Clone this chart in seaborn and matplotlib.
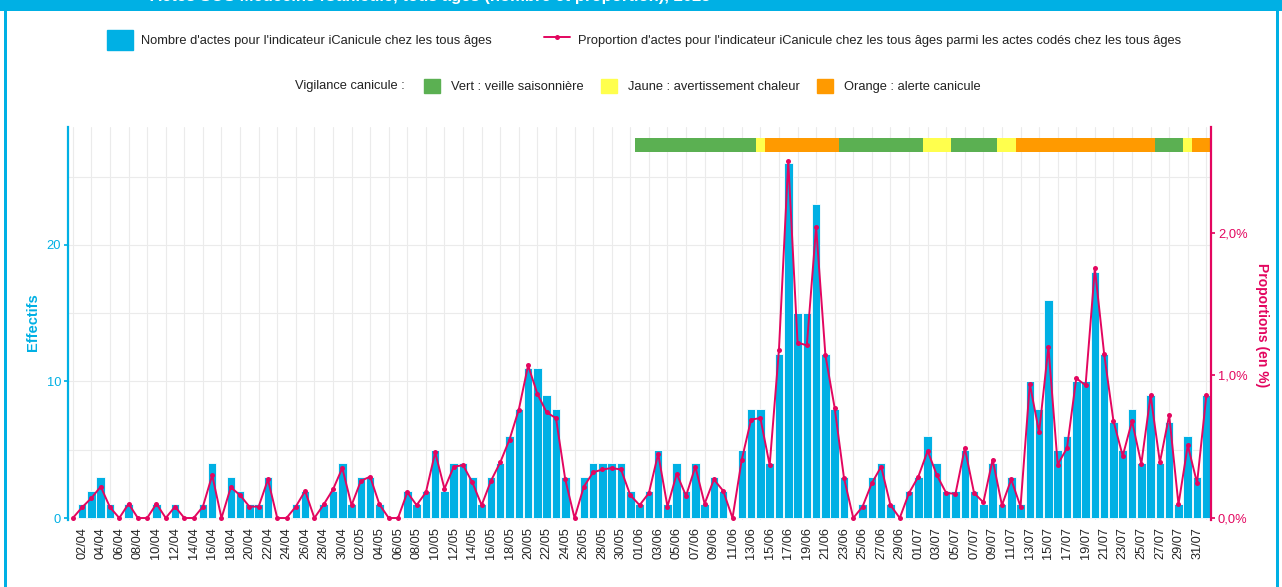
import numpy as np
import pandas as pd
import matplotlib
matplotlib.use("Agg")
import matplotlib.pyplot as plt
import matplotlib.patches as mpatches
import matplotlib.transforms as mtransforms
from matplotlib.lines import Line2D
import seaborn as sns

# ---------------- data ----------------
debut = "2025-04-01"
fin = "2025-08-01"

effectifs_avril = [0, 1, 2, 3, 1, 0, 1, 0, 0, 1, 0, 1, 0, 0, 1, 4, 0, 3, 2, 1,
                   1, 3, 0, 0, 1, 2, 0, 1, 2, 4]
effectifs_mai = [1, 3, 3, 1, 0, 0, 2, 1, 2, 5, 2, 4, 4, 3, 1, 3, 4, 6, 8, 11,
                 11, 9, 8, 3, 0, 3, 4, 4, 4, 4, 2]
effectifs_juin = [1, 2, 5, 1, 4, 2, 4, 1, 3, 2, 0, 5, 8, 8, 4, 12, 26, 15, 15, 23,
                  12, 8, 3, 0, 1, 3, 4, 1, 0, 2]
effectifs_juillet = [3, 6, 4, 2, 2, 5, 2, 1, 4, 1, 3, 1, 10, 8, 16, 5, 6, 10, 10, 18,
                     12, 7, 5, 8, 4, 9, 4, 7, 1, 6, 3]
effectifs_aout = [9]

prop_avril = [0, 0.075, 0.14, 0.22, 0.075, 0, 0.10, 0, 0, 0.10, 0, 0.08, 0, 0, 0.08,
              0.30, 0, 0.215, 0.16, 0.08, 0.08, 0.27, 0, 0, 0.08, 0.19, 0, 0.095, 0.20, 0.35]
prop_mai = [0.09, 0.26, 0.29, 0.095, 0, 0, 0.18, 0.09, 0.18, 0.46, 0.205, 0.36, 0.37,
            0.25, 0.09, 0.26, 0.39, 0.55, 0.76, 1.07, 0.87, 0.74, 0.70, 0.27, 0, 0.22,
            0.32, 0.34, 0.35, 0.34, 0.16]
prop_juin = [0.09, 0.175, 0.45, 0.08, 0.31, 0.155, 0.36, 0.10, 0.27, 0.19, 0, 0.41,
             0.69, 0.70, 0.37, 1.18, 2.50, 1.23, 1.21, 2.04, 1.14, 0.77, 0.28, 0, 0.08,
             0.245, 0.36, 0.09, 0, 0.175]
prop_juillet = [0.29, 0.47, 0.30, 0.175, 0.17, 0.49, 0.175, 0.11, 0.41, 0.09, 0.27,
                0.08, 0.94, 0.60, 1.20, 0.375, 0.49, 0.98, 0.93, 1.75, 1.15, 0.68,
                0.435, 0.68, 0.38, 0.86, 0.39, 0.72, 0.095, 0.51, 0.245]
prop_aout = [0.86]

# vigilance canicule periods (first day, last day, level)
vig_debut = ["2025-06-01", "2025-06-14", "2025-06-15", "2025-06-23", "2025-07-02",
             "2025-07-05", "2025-07-10", "2025-07-12", "2025-07-27", "2025-07-30",
             "2025-07-31"]
vig_fin = ["2025-06-13", "2025-06-14", "2025-06-22", "2025-07-01", "2025-07-04",
           "2025-07-09", "2025-07-11", "2025-07-26", "2025-07-29", "2025-07-30",
           "2025-08-01"]
vig_niveau = ["Vert", "Jaune", "Orange", "Vert", "Jaune", "Vert", "Jaune", "Orange",
              "Vert", "Jaune", "Orange"]

niveaux = ["Vert", "Jaune", "Orange"]
niveaux_labels = ["Vert : veille saisonnière", "Jaune : avertissement chaleur",
                  "Orange : alerte canicule"]

lab_barres = "Nombre d'actes pour l'indicateur iCanicule chez les tous âges"
lab_ligne = ("Proportion d'actes pour l'indicateur iCanicule chez les tous âges "
             "parmi les actes codés chez les tous âges")
titre = "Actes SOS Médecins iCanicule, tous âges (nombre et proportion), 2025"

# ---------------- styling ----------------
BLUE = "#00B0E4"
PINK = "#E3065F"
VCOL = {"Vert": "#5BB052", "Jaune": "#FFFF4D", "Orange": "#FF9A00"}
GRID = "#EBEBEB"
TXT = "#222222"
FS = 9.3

sns.set_theme(style="white")
plt.rcParams["font.family"] = ["Liberation Sans", "DejaVu Sans"]

dates = pd.date_range(debut, fin, freq="D")
df = pd.DataFrame({
    "date": dates,
    "jour": np.arange(len(dates)),
    "effectif": effectifs_avril + effectifs_mai + effectifs_juin + effectifs_juillet + effectifs_aout,
    "proportion": prop_avril + prop_mai + prop_juin + prop_juillet + prop_aout,
})

K = 10.45  # counts per 1 % on secondary axis
W, H = 1282, 587
fig = plt.figure(figsize=(W / 100, H / 100), dpi=100)
fig.patch.set_facecolor("white")
ax = fig.add_axes([68 / W, 1 - 520 / H, (1211 - 68) / W, (520 - 127) / H])
ax.set_facecolor("white")

# grid
ax.set_xticks(df["jour"], minor=True)
ax.set_yticks([5, 15, 25], minor=True)
ax.grid(True, which="both", axis="both", color=GRID, linewidth=0.8, zorder=0)
ax.set_axisbelow(True)

sns.barplot(data=df, x="jour", y="effectif", ax=ax, color=BLUE, width=0.92,
            edgecolor="white", linewidth=0.6, saturation=1, zorder=2)

ylo, yhi = -0.146, 28.64
ax.set_ylim(ylo, yhi)
ax.set_xlim(-0.52, len(df) - 0.5)

# vigilance band
trans = mtransforms.blended_transform_factory(ax.transData, ax.transAxes)
jours_idx = pd.Series(df["jour"].values, index=df["date"])
for d0, d1, niv in zip(vig_debut, vig_fin, vig_niveau):
    j0 = jours_idx[pd.Timestamp(d0)]
    j1 = jours_idx[pd.Timestamp(d1)]
    ax.add_patch(mpatches.Rectangle((j0 - 0.5, 1 - (152 - 127) / 393), j1 - j0 + 1,
                                    14 / 393, transform=trans, facecolor=VCOL[niv],
                                    edgecolor="none", zorder=3, clip_on=False))

# x ticks
maj = df["jour"].values[1::2]
ax.set_xticks(maj)
ax.set_xticklabels(df["date"].dt.strftime("%d/%m").values[1::2], rotation=90,
                   fontsize=9.2, color=TXT)
ax.set_xlim(-0.52, len(df) - 0.5)
ax.set_yticks([0, 10, 20])
ax.set_yticklabels(["0", "10", "20"])
ax.tick_params(axis="x", which="major", length=3, color="#444444", pad=2)
ax.tick_params(axis="x", which="minor", length=0)
ax.tick_params(axis="y", which="major", length=3, colors=BLUE, labelsize=9.3, pad=2)
ax.tick_params(axis="y", which="minor", length=0)
ax.set_xlabel("")
ax.set_ylabel("")
for s in ["top", "right", "bottom"]:
    ax.spines[s].set_visible(False)
ax.spines["left"].set_color(BLUE)
ax.spines["left"].set_linewidth(1.6)

# secondary axis line
ax2 = ax.twinx()
sns.lineplot(data=df, x="jour", y="proportion", ax=ax2, color=PINK, linewidth=1.4,
             marker="o", markersize=3.6, markeredgewidth=0, zorder=4)
ax2.set_ylim(ylo / K, yhi / K)
ax2.set_xlim(-0.52, len(df) - 0.5)
ax2.set_yticks([0, 1, 2])
ax2.set_yticklabels(["0,0%", "1,0%", "2,0%"])
ax2.tick_params(axis="y", length=3, colors=PINK, labelsize=9.3, pad=2)
ax2.set_ylabel("")
ax2.grid(False)
for s in ["top", "left", "bottom"]:
    ax2.spines[s].set_visible(False)
ax2.spines["right"].set_color(PINK)
ax2.spines["right"].set_linewidth(1.6)

# axis titles
fig.text(33 / W, 1 - 322 / H, "Effectifs", rotation=90, ha="center", va="center",
         color=BLUE, fontsize=10.5, fontweight="bold")
fig.text(1262 / W, 1 - 325 / H, "Proportions (en %)", rotation=270, ha="center",
         va="center", color=PINK, fontsize=10, fontweight="bold")

# legends
px = FS * 100 / 72
h1 = [mpatches.Patch(facecolor=BLUE, edgecolor=BLUE),
      Line2D([], [], color=PINK, marker="o", markersize=3.6, markeredgewidth=0, lw=1.4)]
fig.legend(h1, [lab_barres, lab_ligne], loc="center", bbox_to_anchor=(644 / W, 1 - 40 / H),
           ncol=2, frameon=False, fontsize=FS, handlelength=26 / px, handleheight=25 / px,
           handletextpad=8 / px, columnspacing=53 / px, borderpad=0, borderaxespad=0,
           labelcolor=TXT)

fig.text(405 / W, 1 - 86 / H, "Vigilance canicule :", ha="right", va="center",
         fontsize=FS, color=TXT)
h2 = [mpatches.Patch(facecolor=VCOL[n], edgecolor=VCOL[n]) for n in niveaux]
fig.legend(h2, niveaux_labels, loc="center left", bbox_to_anchor=(424 / W, 1 - 86 / H),
           ncol=3, frameon=False, fontsize=FS, handlelength=16 / px, handleheight=16 / px,
           handletextpad=11 / px, columnspacing=17 / px, borderpad=0, borderaxespad=0,
           labelcolor=TXT)

# blue frame + title banner
fig.patches.append(mpatches.Rectangle((0, 1 - 11 / H), 1, 11 / H, transform=fig.transFigure,
                                      facecolor=BLUE, edgecolor="none", zorder=0))
fig.patches.append(mpatches.Rectangle((4 / W, 0), 2.5 / W, 1, transform=fig.transFigure,
                                      facecolor=BLUE, edgecolor="none", zorder=0))
fig.patches.append(mpatches.Rectangle((1276 / W, 0), 2.5 / W, 1, transform=fig.transFigure,
                                      facecolor=BLUE, edgecolor="none", zorder=0))
fig.text(150 / W, 1 - 1.5 / H, titre, ha="left", va="baseline", color="white",
         fontsize=12, fontweight="bold")

fig.savefig("out.png", dpi=100, facecolor="white")
